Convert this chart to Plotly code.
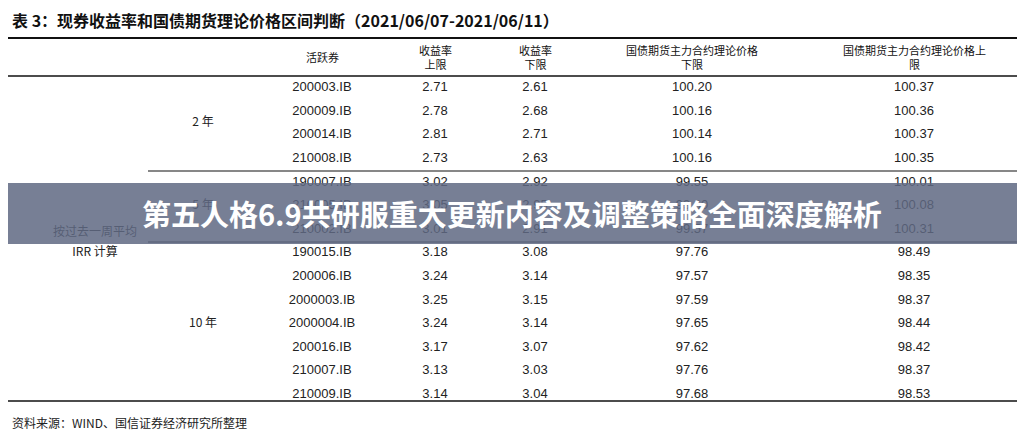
import plotly.graph_objects as go

bonds = ["200003.IB","200009.IB","200014.IB","210008.IB","190007.IB","210005.IB","210002.IB",
         "190015.IB","200006.IB","2000003.IB","2000004.IB","200016.IB","210007.IB","210009.IB"]
yield_up = ["2.71","2.78","2.81","2.73","3.02","3.05","3.01","3.18","3.24","3.25","3.24","3.17","3.13","3.14"]
yield_lo = ["2.61","2.68","2.71","2.63","2.92","2.95","2.91","3.08","3.14","3.15","3.14","3.07","3.03","3.04"]
price_lo = ["100.20","100.16","100.14","100.16","99.55","99.60","99.57","97.76","97.57","97.59","97.65","97.62","97.76","97.68"]
price_up = ["100.37","100.36","100.37","100.35","100.01","100.08","100.31","98.49","98.35","98.37","98.44","98.42","98.37","98.53"]
groups = ["2 年","5 年","10 年"]
group_rows = [1.5, 5, 10]
headers = ["活跃券","收益率<br>上限","收益率<br>下限","国债期货主力合约理论价格<br>下限","国债期货主力合约理论价格上<br>限"]

col_x = [322, 435, 535, 692, 914]
row_y = lambda i: 88 + i * 23.6

fig = go.Figure()
ys = [row_y(i) for i in range(len(bonds))]
for cx, col in zip(col_x, [bonds, yield_up, yield_lo, price_lo, price_up]):
    fig.add_trace(go.Scatter(x=[cx]*len(col), y=ys, text=col, mode="text",
                             textfont=dict(family="Liberation Sans, Arial", size=13, color="#222"),
                             hoverinfo="skip", showlegend=False))
fig.add_trace(go.Scatter(x=[203]*3, y=[row_y(g) for g in group_rows], text=groups, mode="text",
                         textfont=dict(family="Noto Sans CJK SC", size=12, color="#222"),
                         hoverinfo="skip", showlegend=False))
fig.add_trace(go.Scatter(x=[95, 95], y=[row_y(6.15), row_y(7)], text=["按过去一周平均", "IRR 计算"], mode="text",
                         textfont=dict(family="Noto Sans CJK SC", size=12, color="#222"),
                         hoverinfo="skip", showlegend=False))
for cx, h in zip(col_x, headers):
    fig.add_annotation(x=cx, y=57, text=h, showarrow=False,
                       font=dict(family="Noto Sans CJK SC", size=11, color="#111"))

fig.add_annotation(x=10, y=20, xanchor="left", showarrow=False,
                   text="<b>表 3：现券收益率和国债期货理论价格区间判断（2021/06/07-2021/06/11）</b>",
                   font=dict(family="Noto Sans CJK SC", size=16, color="#111"))
fig.add_annotation(x=10, y=422, xanchor="left", showarrow=False,
                   text="资料来源：WIND、国信证券经济研究所整理",
                   font=dict(family="Noto Sans CJK SC", size=12, color="#222"))

def hline(y, x0, x1, w=1.5):
    fig.add_shape(type="line", x0=x0, x1=x1, y0=y, y1=y, line=dict(color="#111", width=w))
hline(38, 8, 1018, 2)
hline(76, 8, 1018, 1.5)
hline(171, 148, 1018, 1.2)
hline(242, 148, 1018, 1.2)
hline(401, 8, 1018, 1.5)

fig.add_shape(type="rect", x0=-20, x1=1045, y0=183, y1=244, line=dict(width=0),
              fillcolor="rgba(95,105,130,0.85)")
fig.add_annotation(x=512, y=213, showarrow=False,
                   text="<b>第五人格6.9共研服重大更新内容及调整策略全面深度解析</b>",
                   font=dict(family="Noto Sans CJK SC", size=29, color="white"))

fig.update_layout(width=1025, height=431, margin=dict(l=0, r=0, t=0, b=0),
                  paper_bgcolor="white", plot_bgcolor="white",
                  xaxis=dict(range=[8, 1033], visible=False, fixedrange=True),
                  yaxis=dict(range=[439, 8], visible=False, fixedrange=True))
fig.write_html("out.html")
